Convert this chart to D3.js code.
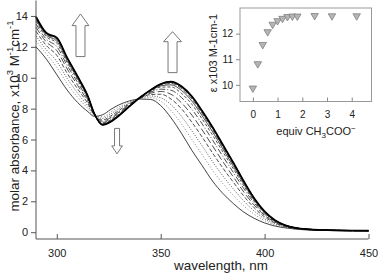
<!DOCTYPE html>
<html lang="en">
<head>
  <meta charset="utf-8">
  <title>Acetate titration spectra</title>
  <script src="https://d3js.org/d3.v7.min.js"></script>
  <style>
    body { margin: 0; background: #fff; }
    text { font-family: Arial, "Liberation Sans", sans-serif; fill: #222; }
  </style>
</head>
<body>
  <svg id="chart" width="378" height="275"></svg>

  <script>
    // wavelength grid, nm
    const wavelengths = [290, 295, 300, 305, 310, 315, 318, 322, 326, 330, 335, 340, 345, 350, 355,
      360, 365, 370, 375, 380, 385, 390, 395, 400, 405, 410, 420, 435, 450];

    // molar absorbance x10^3, one row per addition of acetate
    const spectra = [
      [12.0, 11.2, 10.2, 9.2, 8.4, 7.8, 7.5, 7.6, 7.95, 8.25, 8.5, 8.62, 8.6, 8.2, 7.4, 6.4, 5.3, 4.3, 3.3, 2.5, 1.85, 1.3, 0.9, 0.6, 0.4, 0.28, 0.15, 0.1, 0.08],
      [12.39, 11.54, 10.68, 9.62, 8.74, 8.0, 7.54, 7.47, 7.79, 8.11, 8.43, 8.64, 8.72, 8.48, 7.87, 7.01, 6.0, 5.01, 4.0, 3.13, 2.38, 1.7, 1.16, 0.75, 0.48, 0.31, 0.16, 0.1, 0.08],
      [12.7, 11.81, 11.06, 9.96, 9.01, 8.16, 7.57, 7.37, 7.66, 8.0, 8.37, 8.66, 8.82, 8.7, 8.25, 7.5, 6.56, 5.58, 4.56, 3.63, 2.8, 2.02, 1.37, 0.87, 0.54, 0.34, 0.17, 0.11, 0.09],
      [13.01, 12.08, 11.45, 10.29, 9.28, 8.32, 7.6, 7.26, 7.53, 7.89, 8.32, 8.67, 8.91, 8.93, 8.62, 7.99, 7.12, 6.15, 5.12, 4.14, 3.23, 2.34, 1.58, 0.99, 0.6, 0.37, 0.18, 0.11, 0.09],
      [13.27, 12.31, 11.76, 10.57, 9.51, 8.45, 7.63, 7.18, 7.43, 7.79, 8.27, 8.69, 8.99, 9.11, 8.93, 8.38, 7.58, 6.61, 5.58, 4.55, 3.57, 2.6, 1.75, 1.09, 0.65, 0.39, 0.18, 0.11, 0.09],
      [13.48, 12.49, 12.02, 10.8, 9.69, 8.56, 7.65, 7.11, 7.34, 7.72, 8.23, 8.7, 9.06, 9.26, 9.19, 8.72, 7.96, 7.0, 5.96, 4.89, 3.86, 2.82, 1.89, 1.17, 0.69, 0.41, 0.19, 0.12, 0.1],
      [13.66, 12.65, 12.24, 10.99, 9.85, 8.65, 7.67, 7.05, 7.27, 7.65, 8.2, 8.71, 9.11, 9.39, 9.4, 8.99, 8.28, 7.32, 6.28, 5.18, 4.1, 3.0, 2.0, 1.24, 0.72, 0.42, 0.19, 0.12, 0.1],
      [13.77, 12.75, 12.38, 11.11, 9.95, 8.71, 7.68, 7.01, 7.22, 7.61, 8.18, 8.71, 9.15, 9.47, 9.54, 9.18, 8.49, 7.53, 6.49, 5.37, 4.26, 3.12, 2.08, 1.28, 0.75, 0.43, 0.2, 0.12, 0.1],
      [13.85, 12.82, 12.48, 11.2, 10.02, 8.75, 7.69, 6.98, 7.19, 7.58, 8.17, 8.72, 9.17, 9.53, 9.63, 9.3, 8.63, 7.67, 6.63, 5.49, 4.37, 3.2, 2.14, 1.31, 0.76, 0.44, 0.2, 0.12, 0.1],
      [13.89, 12.85, 12.53, 11.24, 10.05, 8.77, 7.69, 6.97, 7.17, 7.57, 8.16, 8.72, 9.18, 9.56, 9.68, 9.36, 8.7, 7.74, 6.7, 5.56, 4.42, 3.24, 2.16, 1.33, 0.77, 0.44, 0.2, 0.12, 0.1],
      [13.92, 12.87, 12.56, 11.27, 10.07, 8.79, 7.7, 6.96, 7.16, 7.56, 8.16, 8.72, 9.19, 9.58, 9.71, 9.4, 8.75, 7.8, 6.75, 5.6, 4.46, 3.27, 2.18, 1.34, 0.77, 0.45, 0.2, 0.12, 0.1],
      [13.94, 12.89, 12.59, 11.29, 10.09, 8.8, 7.7, 6.95, 7.15, 7.55, 8.15, 8.72, 9.2, 9.59, 9.74, 9.43, 8.78, 7.83, 6.78, 5.63, 4.49, 3.29, 2.2, 1.35, 0.78, 0.45, 0.2, 0.12, 0.1],
      [13.95, 12.9, 12.6, 11.3, 10.1, 8.8, 7.7, 6.95, 7.15, 7.55, 8.15, 8.72, 9.2, 9.6, 9.75, 9.45, 8.8, 7.85, 6.8, 5.65, 4.5, 3.3, 2.2, 1.35, 0.78, 0.45, 0.2, 0.12, 0.1]
    ];

    // inset: epsilon vs equivalents of acetate
    const equiv = [0, 0.2, 0.4, 0.6, 0.8, 1.0, 1.2, 1.4, 1.6, 1.8, 2.5, 3.2, 4.2];
    const epsilon = [9.87, 10.82, 11.57, 12.07, 12.36, 12.5, 12.59, 12.66, 12.68, 12.68, 12.7, 12.69, 12.69];

    const xTicks = [300, 350, 400, 450];
    const yTicks = [0, 2, 4, 6, 8, 10, 12, 14];
    const insetXTicks = [0, 1, 2, 3, 4];
    const insetYTicks = [10, 11, 12];

    // line look for each spectrum, in order
    const styles = [
      { w: 0.8, c: "#111", d: null },
      { w: 0.9, c: "#777", d: "1,2" },
      { w: 0.8, c: "#333", d: "1,1.5" },
      { w: 0.8, c: "#222", d: "4,2" },
      { w: 0.8, c: "#222", d: "7,3" },
      { w: 0.8, c: "#222", d: "6,2,1,2" },
      { w: 0.8, c: "#222", d: "3,2" },
      { w: 0.8, c: "#222", d: null },
      { w: 0.8, c: "#222", d: "5,2" },
      { w: 0.8, c: "#333", d: "1,1" },
      { w: 0.9, c: "#111", d: null },
      { w: 0.9, c: "#111", d: null },
      { w: 1.7, c: "#000", d: null }
    ];

    const font = "Arial, 'Liberation Sans', sans-serif";
    const svg = d3.select("#chart");

    const x = d3.scaleLinear().domain([290, 450]).range([36, 368.5]);
    const y = d3.scaleLinear().domain([-0.44, 15.0]).range([239, 0.5]);

    const line = d3.line()
      .x((d, i) => x(wavelengths[i]))
      .y(d => y(d))
      .curve(d3.curveMonotoneX);

    // spectra
    svg.append("g")
      .selectAll("path")
      .data(spectra)
      .join("path")
      .attr("d", line)
      .attr("fill", "none")
      .attr("stroke", (d, i) => styles[i].c)
      .attr("stroke-width", (d, i) => styles[i].w)
      .attr("stroke-dasharray", (d, i) => styles[i].d);

    // axes
    const axisColor = "#555";
    const xAxis = svg.append("g")
      .attr("transform", `translate(0,${y(-0.44)})`)
      .call(d3.axisBottom(x).tickValues(xTicks).tickSize(-5).tickPadding(10).tickFormat(d3.format("d")));
    xAxis.select(".domain").attr("d", `M${x(290)},0H${x(450)}`).attr("stroke", axisColor);
    xAxis.selectAll(".tick line").attr("stroke", axisColor);
    xAxis.selectAll("text").attr("font-size", 11).attr("fill", "#222").attr("font-family", font);

    const yAxis = svg.append("g")
      .attr("transform", `translate(${x(290)},0)`)
      .call(d3.axisLeft(y).tickValues(yTicks).tickSize(5).tickPadding(3).tickFormat(d3.format("d")));
    yAxis.select(".domain").attr("d", `M0,${y(15)}V${y(-0.44)}`).attr("stroke", axisColor);
    yAxis.selectAll(".tick line").attr("stroke", axisColor);
    yAxis.selectAll("text").attr("font-size", 11).attr("fill", "#222").attr("font-family", font);

    // axis titles
    svg.append("text")
      .attr("x", 221)
      .attr("y", 270)
      .attr("text-anchor", "middle")
      .attr("font-size", 13.4)
      .text("wavelength, nm");

    const yTitle = svg.append("text")
      .attr("transform", "translate(18.5,116) rotate(-90)")
      .attr("text-anchor", "middle")
      .attr("font-size", 13.4);
    yTitle.append("tspan").text("molar absorbance, x10");
    yTitle.append("tspan").attr("font-size", 9.5).attr("dy", -5.5).text("3");
    yTitle.append("tspan").attr("dy", 5.5).text(" M");
    yTitle.append("tspan").attr("font-size", 9.5).attr("dy", -5.5).text("-1");
    yTitle.append("tspan").attr("dy", 5.5).text("cm");
    yTitle.append("tspan").attr("font-size", 9.5).attr("dy", -5.5).text("-1");

    // open arrows showing direction of change
    function arrow(cx, top, bottom, sw, hw, hl, up) {
      const tip = up ? top : bottom;
      const base = up ? bottom : top;
      const neck = up ? top + hl : bottom - hl;
      return `M${cx - sw},${base}V${neck}H${cx - hw}L${cx},${tip}L${cx + hw},${neck}H${cx + sw}V${base}Z`;
    }
    const arrows = [
      { wl: 311.4, top: 14.13, bottom: 11.37, sw: 4.5, hw: 8.4, hl: 11.7, up: true },
      { wl: 355.7, top: 12.98, bottom: 10.33, sw: 4.5, hw: 9, hl: 10, up: true },
      { wl: 329.0, top: 6.72, bottom: 5.07, sw: 2.5, hw: 5.3, hl: 8, up: false }
    ];
    svg.append("g")
      .selectAll("path")
      .data(arrows)
      .join("path")
      .attr("d", a => arrow(x(a.wl), y(a.top), y(a.bottom), a.sw, a.hw, a.hl, a.up))
      .attr("fill", "#fff")
      .attr("stroke", "#777")
      .attr("stroke-width", 1);

    // inset
    const ix = d3.scaleLinear().domain([-0.52, 4.8]).range([240, 371.5]);
    const iy = d3.scaleLinear().domain([9.35, 13.0]).range([101.5, 8]);
    const inset = svg.append("g");

    inset.append("rect")
      .attr("x", ix(-0.52))
      .attr("y", iy(13.0))
      .attr("width", ix(4.8) - ix(-0.52))
      .attr("height", iy(9.35) - iy(13.0))
      .attr("fill", "#fff")
      .attr("stroke", "#999")
      .attr("stroke-width", 1);

    const ixAxis = inset.append("g")
      .attr("transform", `translate(0,${iy(9.35)})`)
      .call(d3.axisBottom(ix).tickValues(insetXTicks).tickSize(-4).tickPadding(9).tickFormat(d3.format("d")));
    ixAxis.select(".domain").remove();
    ixAxis.selectAll(".tick line").attr("stroke", "#888");
    ixAxis.selectAll("text").attr("font-size", 10).attr("fill", "#222").attr("font-family", font);

    const iyAxis = inset.append("g")
      .attr("transform", `translate(${ix(-0.52)},0)`)
      .call(d3.axisLeft(iy).tickValues(insetYTicks).tickSize(4).tickPadding(3).tickFormat(d3.format("d")));
    iyAxis.select(".domain").remove();
    iyAxis.selectAll(".tick line").attr("stroke", "#888");
    iyAxis.selectAll("text").attr("font-size", 10).attr("fill", "#222").attr("font-family", font);

    inset.append("g")
      .selectAll("path")
      .data(equiv)
      .join("path")
      .attr("transform", (d, i) => `translate(${ix(d)},${iy(epsilon[i])}) rotate(180)`)
      .attr("d", d3.symbol(d3.symbolTriangle, 24))
      .attr("fill", "#b5b5b5")
      .attr("stroke", "#808080")
      .attr("stroke-width", 0.8);

    const ixTitle = inset.append("text")
      .attr("x", 316)
      .attr("y", 135)
      .attr("text-anchor", "middle")
      .attr("font-size", 11);
    ixTitle.append("tspan").text("equiv CH");
    ixTitle.append("tspan").attr("font-size", 8).attr("dy", 3).text("3");
    ixTitle.append("tspan").attr("dy", -3).text("COO");
    ixTitle.append("tspan").attr("font-size", 8).attr("dy", -4).text("\u2212");

    inset.append("text")
      .attr("transform", "translate(217,53) rotate(-90)")
      .attr("text-anchor", "middle")
      .attr("font-size", 11)
      .text("\u03b5 x103 M-1cm-1");
  </script>
</body>
</html>
